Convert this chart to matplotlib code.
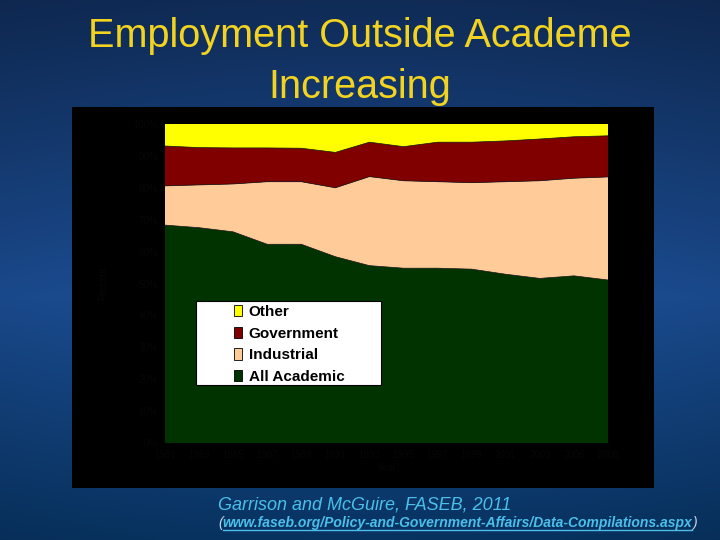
import numpy as np
import matplotlib
matplotlib.use("Agg")
import matplotlib.pyplot as plt
from matplotlib.patches import Rectangle, Patch
from matplotlib.lines import Line2D

plt.rcParams['font.family'] = ['Liberation Sans', 'DejaVu Sans']

# ---- data (percent of employed PhDs) ----
years = ['1981', '1983', '1985', '1987', '1989', '1991', '1993',
         '1995', '1997', '1999', '2001', '2003', '2006', '2008']
academic = [68.3, 67.5, 66.2, 62.3, 62.3, 58.4, 55.6, 54.8, 54.8, 54.5, 52.9, 51.6, 52.4, 51.1]
industrial = [12.3, 13.4, 15.0, 19.6, 19.6, 21.6, 27.9, 27.4, 27.1, 27.1, 29.0, 30.6, 30.6, 32.3]
government = [12.5, 11.7, 11.3, 10.6, 10.5, 11.1, 10.8, 10.7, 12.4, 12.7, 12.8, 13.1, 13.0, 12.9]
other = [6.9, 7.4, 7.5, 7.5, 7.6, 8.9, 5.7, 7.1, 5.7, 5.7, 5.3, 4.7, 4.0, 3.7]
series_names = ['All Academic', 'Industrial', 'Government', 'Other']
series_colors = ['#003300', '#FFCC99', '#800000', '#FFFF00']
yticks = [0, 10, 20, 30, 40, 50, 60, 70, 80, 90, 100]
ytick_labels = ['0%', '10%', '20%', '30%', '40%', '50%', '60%', '70%', '80%', '90%', '100%']

W, H = 720, 540
fig = plt.figure(figsize=(7.2, 5.4), dpi=100)

def fx(px):
    return px / W

def fy(py):
    return (H - py) / H

# ---- slide background (blue gradient) ----
bg = fig.add_axes([0, 0, 1, 1])
bg.set_axis_off()
gy = np.linspace(0, 1, 200)[:, None]
gx = np.linspace(0, 1, 200)[None, :]
top = np.array([0.06, 0.17, 0.34])
mid = np.array([0.11, 0.31, 0.59])
bot = np.array([0.03, 0.20, 0.38])
t = gy * np.ones_like(gx)
img = np.where(t[..., None] < 0.55,
               top + (mid - top) * (t[..., None] / 0.55),
               mid + (bot - mid) * ((t[..., None] - 0.55) / 0.45))
img = img * (0.92 + 0.08 * np.sin(np.pi * gx[..., None]))
bg.imshow(img, aspect='auto', extent=[0, 1, 0, 1], origin='upper')
bg.set_xlim(0, 1)
bg.set_ylim(0, 1)

# black chart box
fig.patches.append(Rectangle((fx(72), fy(488)), fx(654) - fx(72), fy(107) - fy(488),
                             transform=fig.transFigure, facecolor='black',
                             edgecolor='none', zorder=1))

# ---- title ----
title_color = '#F2D420'
fig.text(0.5, fy(47), 'Employment Outside Academe', ha='center', va='baseline',
         fontsize=28.5, color=title_color)
fig.text(0.5, fy(98), 'Increasing', ha='center', va='baseline',
         fontsize=28.5, color=title_color)

# ---- chart ----
ax = fig.add_axes([fx(165), fy(443), fx(608) - fx(165), fy(124) - fy(443)])
ax.set_zorder(2)
x = np.arange(len(years))
ax.stackplot(x, academic, industrial, government, other,
             colors=series_colors, labels=series_names,
             edgecolor='none', linewidth=0)
cum = np.cumsum(np.vstack([academic, industrial, government]), axis=0)
for row in cum:
    ax.plot(x, row, color='#1a1a1a', linewidth=0.5)
ax.set_xlim(0, len(years) - 1)
ax.set_ylim(0, 100)
ax.set_facecolor('black')
for s in ax.spines.values():
    s.set_visible(False)
tick_col = '#070707'
ax.set_yticks(yticks)
ax.set_yticklabels(ytick_labels, color=tick_col, fontsize=7)
ax.set_xticks(x)
ax.set_xticklabels(years, color=tick_col, fontsize=7)
ax.tick_params(length=0, pad=5)
ax.set_ylabel('Percent', color=tick_col, fontsize=7, labelpad=18)
ax.set_xlabel('Year', color=tick_col, fontsize=7, labelpad=2)

# legend: white box + entries
ax.add_patch(Rectangle(((196 - 165) / 443, (443 - 385) / 319),
                       (381 - 196) / 443, (385 - 301) / 319,
                       transform=ax.transAxes, facecolor='white',
                       edgecolor='black', linewidth=0.8, zorder=5))
handles = [Patch(facecolor=c, edgecolor='black', linewidth=0.6, label=n)
           for n, c in zip(series_names[::-1], series_colors[::-1])]
leg = ax.legend(handles=handles, loc='upper left',
                bbox_to_anchor=((234 - 165) / 443, (443 - 305) / 319),
                frameon=False, handlelength=0.55, handleheight=0.75,
                handletextpad=0.4, labelspacing=0.5, borderaxespad=0,
                borderpad=0, prop={'weight': 'bold', 'size': 11})
leg.set_zorder(6)

# ---- citation ----
cite_col = '#4BBFEA'
fig.text(fx(218), fy(509), 'Garrison and McGuire, FASEB, 2011', ha='left',
         va='baseline', fontsize=13, style='italic', color=cite_col)
fig.canvas.draw()
r = fig.canvas.get_renderer()
t1 = fig.text(fx(218), fy(527), '(', ha='left', va='baseline', fontsize=10,
              style='italic', color='#C8D8E8')
e1 = t1.get_window_extent(r)
t2 = fig.text(e1.x1 / W, fy(527), 'www.faseb.org/Policy-and-Government-Affairs/Data-Compilations.aspx',
              ha='left', va='baseline', fontsize=10, style='italic',
              weight='bold', color=cite_col)
e2 = t2.get_window_extent(r)
fig.text(e2.x1 / W, fy(527), ')', ha='left', va='baseline', fontsize=10,
         style='italic', color='#C8D8E8')
fig.lines.append(Line2D([e2.x0 / W, e2.x1 / W], [fy(529.5), fy(529.5)],
                        transform=fig.transFigure, color=cite_col, linewidth=1))

fig.savefig('out.png', dpi=100, facecolor=fig.get_facecolor())
